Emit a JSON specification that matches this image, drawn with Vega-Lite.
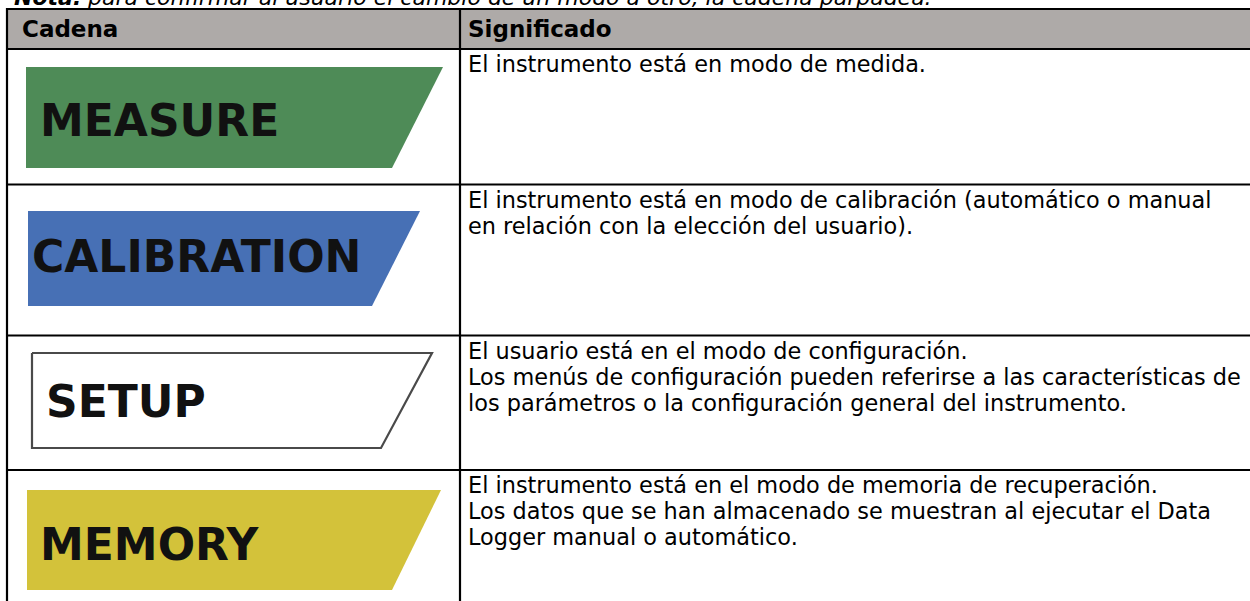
{
  "$schema": "https://vega.github.io/schema/vega-lite/v6.json",
  "width": 1250,
  "height": 601,
  "padding": 0,
  "autosize": {"type": "none"},
  "background": "white",
  "config": {"view": {"stroke": null}},
  "datasets": {
    "header": [{"x1": 7, "x2": 1250, "y1": 9, "y2": 49}],
    "rules": [
      {"x1": 6, "x2": 1250, "y1": 9, "y2": 9},
      {"x1": 6, "x2": 1250, "y1": 49, "y2": 49},
      {"x1": 6, "x2": 1250, "y1": 184.5, "y2": 184.5},
      {"x1": 6, "x2": 1250, "y1": 335.5, "y2": 335.5},
      {"x1": 6, "x2": 1250, "y1": 470, "y2": 470},
      {"x1": 7, "x2": 7, "y1": 8, "y2": 601},
      {"x1": 460, "x2": 460, "y1": 8, "y2": 601}
    ],
    "badges": [
      {"badge": "MEASURE", "y": 67, "xl": 26, "xr": 443},
      {"badge": "MEASURE", "y": 168, "xl": 26, "xr": 392},
      {"badge": "CALIBRATION", "y": 211, "xl": 28, "xr": 420},
      {"badge": "CALIBRATION", "y": 306, "xl": 28, "xr": 372},
      {"badge": "MEMORY", "y": 490, "xl": 27, "xr": 441},
      {"badge": "MEMORY", "y": 590, "xl": 27, "xr": 392}
    ],
    "setup": [
      {"o": 1, "x": 32, "y": 353},
      {"o": 2, "x": 432, "y": 353},
      {"o": 3, "x": 381, "y": 448},
      {"o": 4, "x": 32, "y": 448},
      {"o": 5, "x": 32, "y": 353}
    ],
    "badgeText": [
      {"label": "MEASURE", "x": 40, "y": 136},
      {"label": "CALIBRATION", "x": 32, "y": 272},
      {"label": "SETUP", "x": 46, "y": 417},
      {"label": "MEMORY", "x": 40, "y": 560}
    ],
    "headText": [
      {"x": 22, "y": 37, "text": "Cadena"},
      {"x": 468, "y": 37, "text": "Significado"}
    ],
    "noteBold": [{"x": 14, "y": 5, "text": "Nota:"}],
    "noteRest": [{"x": 88, "y": 5, "text": "para confirmar al usuario el cambio de un modo a otro, la cadena parpadea."}],
    "desc": [
      {"x": 468, "y": 72, "text": "El instrumento está en modo de medida."},
      {"x": 468, "y": 208, "text": "El instrumento está en modo de calibración (automático o manual"},
      {"x": 468, "y": 234, "text": "en relación con la elección del usuario)."},
      {"x": 468, "y": 359, "text": "El usuario está en el modo de configuración."},
      {"x": 468, "y": 385, "text": "Los menús de configuración pueden referirse a las características de"},
      {"x": 468, "y": 411, "text": "los parámetros o la configuración general del instrumento."},
      {"x": 468, "y": 493, "text": "El instrumento está en el modo de memoria de recuperación."},
      {"x": 468, "y": 519, "text": "Los datos que se han almacenado se muestran al ejecutar el Data"},
      {"x": 468, "y": 545, "text": "Logger manual o automático."}
    ]
  },
  "layer": [
    {
      "data": {"name": "header"},
      "mark": {"type": "rect", "fill": "#AEAAA8"},
      "encoding": {
        "x": {"field": "x1", "type": "quantitative", "scale": {"domain": [0, 1250], "nice": false, "zero": false}, "axis": null},
        "x2": {"field": "x2"},
        "y": {"field": "y1", "type": "quantitative", "scale": {"domain": [0, 601], "nice": false, "zero": false, "reverse": true}, "axis": null},
        "y2": {"field": "y2"}
      }
    },
    {
      "data": {"name": "badges"},
      "mark": {"type": "area", "orient": "horizontal", "opacity": 1},
      "encoding": {
        "y": {"field": "y", "type": "quantitative", "scale": {"domain": [0, 601], "nice": false, "zero": false, "reverse": true}, "axis": null},
        "x": {"field": "xl", "type": "quantitative", "stack": null, "scale": {"domain": [0, 1250], "nice": false, "zero": false}, "axis": null},
        "x2": {"field": "xr"},
        "color": {"field": "badge", "type": "nominal", "scale": {"domain": ["MEASURE", "CALIBRATION", "MEMORY"], "range": ["#4E8B57", "#4770B5", "#D3C23A"]}, "legend": null}
      }
    },
    {
      "data": {"name": "setup"},
      "mark": {"type": "line", "stroke": "#4a4a4a", "strokeWidth": 2.2, "strokeJoin": "miter"},
      "encoding": {
        "x": {"field": "x", "type": "quantitative", "scale": {"domain": [0, 1250], "nice": false, "zero": false}, "axis": null},
        "y": {"field": "y", "type": "quantitative", "scale": {"domain": [0, 601], "nice": false, "zero": false, "reverse": true}, "axis": null},
        "order": {"field": "o", "type": "quantitative"}
      }
    },
    {
      "data": {"name": "rules"},
      "mark": {"type": "rule", "color": "#000000", "strokeWidth": 2.2},
      "encoding": {
        "x": {"field": "x1", "type": "quantitative", "scale": {"domain": [0, 1250], "nice": false, "zero": false}, "axis": null},
        "x2": {"field": "x2"},
        "y": {"field": "y1", "type": "quantitative", "scale": {"domain": [0, 601], "nice": false, "zero": false, "reverse": true}, "axis": null},
        "y2": {"field": "y2"}
      }
    },
    {
      "data": {"name": "badgeText"},
      "mark": {"type": "text", "align": "left", "baseline": "alphabetic", "font": "DejaVu Sans", "fontWeight": "bold", "fontSize": 44, "color": "#111111"},
      "encoding": {
        "x": {"field": "x", "type": "quantitative", "scale": {"domain": [0, 1250], "nice": false, "zero": false}, "axis": null},
        "y": {"field": "y", "type": "quantitative", "scale": {"domain": [0, 601], "nice": false, "zero": false, "reverse": true}, "axis": null},
        "text": {"field": "label"}
      }
    },
    {
      "data": {"name": "headText"},
      "mark": {"type": "text", "align": "left", "baseline": "alphabetic", "font": "DejaVu Sans", "fontWeight": "bold", "fontSize": 23, "color": "#000000"},
      "encoding": {
        "x": {"field": "x", "type": "quantitative", "scale": {"domain": [0, 1250], "nice": false, "zero": false}, "axis": null},
        "y": {"field": "y", "type": "quantitative", "scale": {"domain": [0, 601], "nice": false, "zero": false, "reverse": true}, "axis": null},
        "text": {"field": "text"}
      }
    },
    {
      "data": {"name": "noteBold"},
      "mark": {"type": "text", "align": "left", "baseline": "alphabetic", "font": "DejaVu Sans", "fontWeight": "bold", "fontStyle": "italic", "fontSize": 22, "color": "#000000"},
      "encoding": {
        "x": {"field": "x", "type": "quantitative", "scale": {"domain": [0, 1250], "nice": false, "zero": false}, "axis": null},
        "y": {"field": "y", "type": "quantitative", "scale": {"domain": [0, 601], "nice": false, "zero": false, "reverse": true}, "axis": null},
        "text": {"field": "text"}
      }
    },
    {
      "data": {"name": "noteRest"},
      "mark": {"type": "text", "align": "left", "baseline": "alphabetic", "font": "DejaVu Sans", "fontStyle": "italic", "fontSize": 22, "color": "#000000"},
      "encoding": {
        "x": {"field": "x", "type": "quantitative", "scale": {"domain": [0, 1250], "nice": false, "zero": false}, "axis": null},
        "y": {"field": "y", "type": "quantitative", "scale": {"domain": [0, 601], "nice": false, "zero": false, "reverse": true}, "axis": null},
        "text": {"field": "text"}
      }
    },
    {
      "data": {"name": "desc"},
      "mark": {"type": "text", "align": "left", "baseline": "alphabetic", "font": "DejaVu Sans", "fontSize": 22.4, "color": "#000000"},
      "encoding": {
        "x": {"field": "x", "type": "quantitative", "scale": {"domain": [0, 1250], "nice": false, "zero": false}, "axis": null},
        "y": {"field": "y", "type": "quantitative", "scale": {"domain": [0, 601], "nice": false, "zero": false, "reverse": true}, "axis": null},
        "text": {"field": "text"}
      }
    }
  ]
}
